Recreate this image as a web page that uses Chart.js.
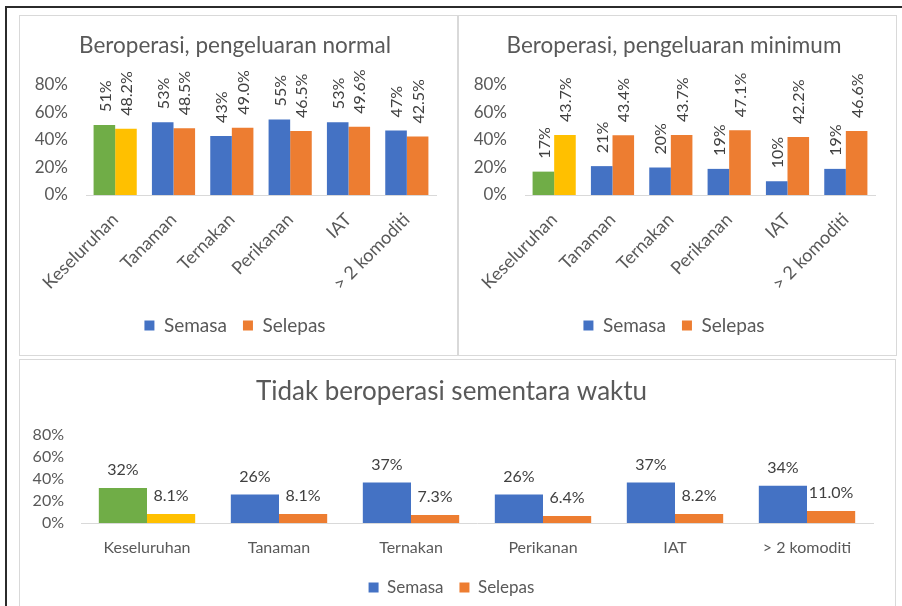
<!DOCTYPE html>
<html>
<head>
<meta charset="utf-8">
<script src="https://cdn.jsdelivr.net/npm/chart.js@4.4.1/dist/chart.umd.min.js"></script>
<style>
  html, body { margin: 0; padding: 0; background: #fff; }
  body { width: 902px; height: 606px; position: relative; overflow: hidden; }
  .frame { position: absolute; left: 5px; top: 6px; width: 1000px; height: 700px;
           border-left: 2px solid #2b2b2b; border-top: 2px solid #2b2b2b; }
  .panel { position: absolute; border: 1px solid #d9d9d9; background: #fff; box-sizing: border-box; }
  .panel canvas { display: block; }
</style>
</head>
<body>
<div class="frame"></div>
<div class="panel" style="left:19px; top:15px; width:439px; height:341px;"><canvas id="normalChart" width="437" height="339"></canvas></div>
<div class="panel" style="left:458px; top:15px; width:439px; height:341px;"><canvas id="minimumChart" width="437" height="339"></canvas></div>
<div class="panel" style="left:19px; top:359px; width:877px; height:262px;"><canvas id="closedChart" width="875" height="260"></canvas></div>
<script>
// Data
const categories = ['Keseluruhan', 'Tanaman', 'Ternakan', 'Perikanan', 'IAT', '> 2 komoditi'];
const yTicks = [0, 20, 40, 60, 80];

const normalSemasa = [51, 53, 43, 55, 53, 47];
const normalSelepas = [48.2, 48.5, 49.0, 46.5, 49.6, 42.5];

const minimumSemasa = [17, 21, 20, 19, 10, 19];
const minimumSelepas = [43.7, 43.4, 43.7, 47.1, 42.2, 46.6];

const closedSemasa = [32, 26, 37, 26, 37, 34];
const closedSelepas = [8.1, 8.1, 7.3, 6.4, 8.2, 11.0];

const FONT = 'Lato, "Open Sans", sans-serif';
const GREY = '#595959';
const BLUE = '#4472C4', ORANGE = '#ED7D31', GREEN = '#70AD47', YELLOW = '#FFC000';

// Draw value labels above each bar (rotated for the top charts)
const valueLabels = {
    id: 'valueLabels',
    afterDatasetsDraw(chart, args, opts) {
        const ctx = chart.ctx;
        chart.data.datasets.forEach(function(ds, i) {
            const meta = chart.getDatasetMeta(i);
            meta.data.forEach(function(bar, j) {
                const text = ds.data[j].toFixed(ds.decimals) + '%';
                ctx.save();
                ctx.fillStyle = '#404040';
                ctx.font = opts.size + 'px ' + FONT;
                if (opts.rotate) {
                    ctx.translate(bar.x + 1, bar.y - opts.offset);
                    ctx.rotate(-Math.PI / 2);
                    ctx.textAlign = 'left';
                    ctx.textBaseline = 'middle';
                    ctx.fillText(text, 0, 0);
                } else {
                    ctx.textAlign = 'center';
                    ctx.textBaseline = 'middle';
                    ctx.fillText(text, bar.x, bar.y - opts.offset);
                }
                ctx.restore();
            });
        });
    }
};

function makeChart(id, title, semasa, selepas, cfg) {
    const ctx = document.getElementById(id).getContext('2d');
    return new Chart(ctx, {
        type: 'bar',
        data: {
            labels: categories,
            datasets: [{
                label: 'Semasa',
                data: semasa,
                decimals: 0,
                // first group ("Keseluruhan") is highlighted in the original
                backgroundColor: function(c) { return c.dataIndex === 0 ? GREEN : BLUE; },
                borderWidth: 0,
                barPercentage: 1,
                categoryPercentage: cfg.catPct
            }, {
                label: 'Selepas',
                data: selepas,
                decimals: 1,
                backgroundColor: function(c) { return c.dataIndex === 0 ? YELLOW : ORANGE; },
                borderWidth: 0,
                barPercentage: 1,
                categoryPercentage: cfg.catPct
            }]
        },
        options: {
            responsive: false,
            animation: false,
            events: [],
            layout: { padding: cfg.padding },
            scales: {
                x: {
                    grid: { display: false, drawTicks: false },
                    border: { display: true, color: '#d9d9d9', width: 1 },
                    ticks: {
                        color: GREY,
                        font: { family: FONT, size: cfg.xSize },
                        autoSkip: false,
                        maxRotation: cfg.rot,
                        minRotation: cfg.rot,
                        padding: cfg.xPad
                    },
                    afterFit: function(scale) { scale.height = cfg.xHeight; }
                },
                y: {
                    min: 0,
                    max: 80,
                    afterBuildTicks: function(scale) { scale.ticks = yTicks.map(function(v) { return { value: v }; }); },
                    grid: { display: false, drawTicks: false },
                    border: { display: false },
                    ticks: {
                        color: GREY,
                        autoSkip: false,
                        font: { family: FONT, size: cfg.ySize },
                        padding: cfg.yPad,
                        callback: function(v) { return v + '%'; }
                    },
                    afterFit: function(scale) { scale.width = cfg.yWidth; }
                }
            },
            plugins: {
                title: {
                    display: true,
                    text: title,
                    color: GREY,
                    font: { family: FONT, size: cfg.titleSize, weight: 'normal' },
                    padding: cfg.titlePad
                },
                legend: {
                    position: 'bottom',
                    labels: {
                        color: GREY,
                        font: { family: FONT, size: cfg.legendSize },
                        boxWidth: 10,
                        boxHeight: 10,
                        padding: 16,
                        generateLabels: function(chart) {
                            const cols = [BLUE, ORANGE];
                            return chart.data.datasets.map(function(ds, i) {
                                return { text: ds.label, fillStyle: cols[i], strokeStyle: cols[i],
                                         lineWidth: 0, hidden: false, datasetIndex: i, fontColor: GREY };
                            });
                        }
                    }
                },
                tooltip: { enabled: false },
                valueLabels: cfg.labels
            }
        },
        plugins: [valueLabels]
    });
}

const topCfg = {
    catPct: 0.74,
    padding: { left: 14, right: 21, top: 0, bottom: 10 },
    xSize: 18, ySize: 17, rot: 45, xPad: 14, xHeight: 105,
    yPad: 18, yWidth: 52,
    titleSize: 22.5, titlePad: { top: 16, bottom: 26 },
    legendSize: 19,
    labels: { rotate: true, offset: 13, size: 16 }
};

makeChart('normalChart', 'Beroperasi, pengeluaran normal', normalSemasa, normalSelepas, topCfg);
makeChart('minimumChart', 'Beroperasi, pengeluaran minimum', minimumSemasa, minimumSelepas, topCfg);

makeChart('closedChart', 'Tidak beroperasi sementara waktu', closedSemasa, closedSelepas, {
    catPct: 0.73,
    padding: { left: 10, right: 22, top: 0, bottom: 14 },
    xSize: 16, ySize: 16, rot: 0, xPad: 15, xHeight: 40,
    yPad: 17, yWidth: 51,
    titleSize: 26, titlePad: { top: 16, bottom: 28 },
    legendSize: 17,
    labels: { rotate: false, offset: 18, size: 16 }
});
</script>
</body>
</html>
